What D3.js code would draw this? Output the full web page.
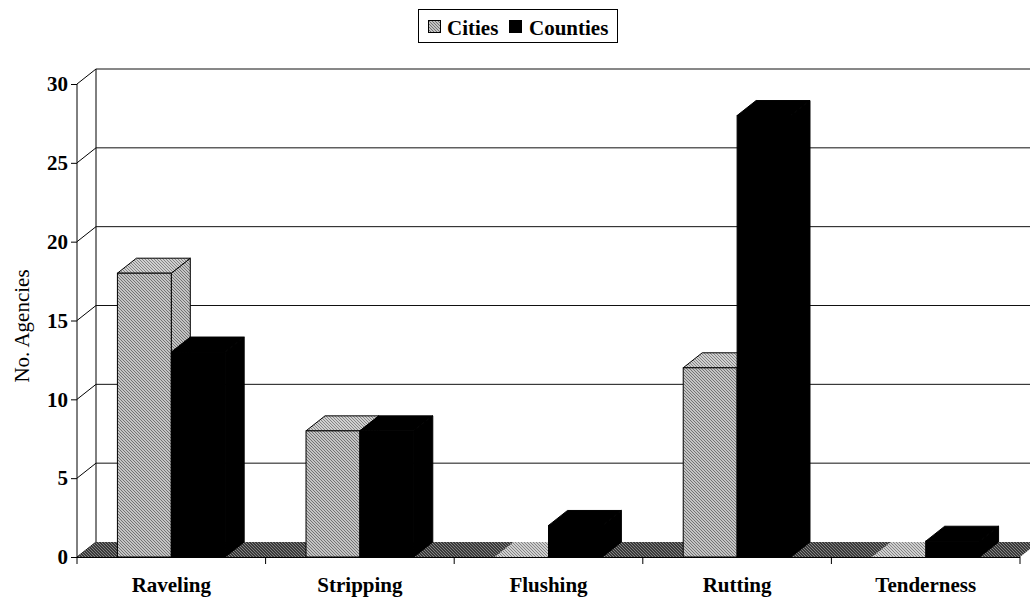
<!DOCTYPE html>
<html>
<head>
<meta charset="utf-8">
<script src="https://cdn.jsdelivr.net/npm/d3@7"></script>
<style>
  html, body { margin: 0; padding: 0; background: #fff; }
  svg { display: block; }
  text { font-family: "Liberation Serif", "Times New Roman", serif; fill: #000; }
</style>
</head>
<body>
<svg id="chart" width="1030" height="602"></svg>
<script>
// Distress types reported by agencies
const categories = ["Raveling", "Stripping", "Flushing", "Rutting", "Tenderness"];
const seriesNames = ["Cities", "Counties"];
const citiesValues = [18, 8, 0, 12, 0];
const countiesValues = [13, 8, 2, 28, 1];
const yTicks = [0, 5, 10, 15, 20, 25, 30];
const yTitle = "No. Agencies";

(function () {
const svg = d3.select("#chart");

// plot frame (front plane) and 3D depth offset
const plotLeft = 77, plotRight = 1020, plotBottom = 557, plotTop = 84;
const dx = 19, dy = 15;

const defs = svg.append("defs");
function hatch(id, bg, fg) {
  const p = defs.append("pattern").attr("id", id)
    .attr("patternUnits", "userSpaceOnUse").attr("width", 3).attr("height", 3);
  p.append("rect").attr("width", 3).attr("height", 3).attr("fill", bg);
  p.append("path").attr("d", "M0,0 L3,3 M-1,2 L1,4 M2,-1 L4,1")
    .attr("stroke", fg).attr("stroke-width", 0.9);
}
hatch("hatchCities", "#c4c4c4", "#6a6a6a");     // Cities front and side faces
hatch("hatchCitiesTop", "#d0d0d0", "#7a7a7a");  // Cities top face
hatch("hatchFloor", "#3a3a3a", "#8c8c8c");      // floor

const y = d3.scaleLinear().domain([0, 30]).range([plotBottom, plotTop]);
const x0 = d3.scaleBand().domain(categories).range([plotLeft, plotRight]).paddingInner(0).paddingOuter(0);
const x1 = d3.scaleBand().domain(seriesNames).range([0, x0.bandwidth()])
  .paddingInner(0).paddingOuter(0.75);

const g = svg.append("g");

// back wall: left edge and gridlines
g.append("line").attr("x1", plotLeft + dx).attr("x2", plotLeft + dx)
  .attr("y1", y(30) - dy).attr("y2", y(0) - dy)
  .attr("stroke", "#000").attr("stroke-width", 1);
g.selectAll(".grid").data(yTicks.filter(d => d > 0)).join("line")
  .attr("class", "grid")
  .attr("x1", plotLeft + dx).attr("x2", plotRight + dx)
  .attr("y1", d => y(d) - dy).attr("y2", d => y(d) - dy)
  .attr("stroke", "#111").attr("stroke-width", 1);
// connectors from the front axis to the back wall
g.selectAll(".conn").data(yTicks).join("line")
  .attr("class", "conn")
  .attr("x1", plotLeft).attr("x2", plotLeft + dx)
  .attr("y1", d => y(d)).attr("y2", d => y(d) - dy)
  .attr("stroke", "#000").attr("stroke-width", 1);

// floor
g.append("path")
  .attr("d", `M${plotLeft},${y(0)} L${plotRight},${y(0)} L${plotRight + dx},${y(0) - dy} L${plotLeft + dx},${y(0) - dy} Z`)
  .attr("fill", "url(#hatchFloor)");

// bars
const rows = [];
categories.forEach((c, i) => {
  rows.push({ cat: c, s: "Cities", v: citiesValues[i] });
  rows.push({ cat: c, s: "Counties", v: countiesValues[i] });
});

const bars = g.selectAll(".bar").data(rows).join("g").attr("class", "bar");
bars.each(function (d) {
  const el = d3.select(this);
  const bx = x0(d.cat) + x1(d.s);
  const bw = x1.bandwidth();
  const yt = y(d.v), yb = y(0);
  const isC = d.s === "Cities";
  const front = isC ? "url(#hatchCities)" : "#000";
  const topF = isC ? "url(#hatchCitiesTop)" : "#000";
  const stroke = "#000";
  // side face
  if (d.v > 0) {
    el.append("path")
      .attr("d", `M${bx + bw},${yt} L${bx + bw + dx},${yt - dy} L${bx + bw + dx},${yb - dy} L${bx + bw},${yb} Z`)
      .attr("fill", front).attr("stroke", stroke).attr("stroke-width", 1).attr("stroke-linejoin", "round");
  }
  // top face
  el.append("path")
    .attr("d", `M${bx},${yt} L${bx + dx},${yt - dy} L${bx + bw + dx},${yt - dy} L${bx + bw},${yt} Z`)
    .attr("fill", topF).attr("stroke", d.v > 0 ? stroke : "none").attr("stroke-width", 1).attr("stroke-linejoin", "round");
  // front face
  if (d.v > 0) {
    el.append("rect")
      .attr("x", bx).attr("y", yt).attr("width", bw).attr("height", yb - yt)
      .attr("fill", front).attr("stroke", stroke).attr("stroke-width", 1);
  }
});

// front value axis
g.append("line").attr("x1", plotLeft).attr("x2", plotLeft).attr("y1", y(30)).attr("y2", y(0))
  .attr("stroke", "#000").attr("stroke-width", 1);
const yAxis = d3.axisLeft(y).tickValues(yTicks).tickSize(6).tickPadding(3).tickFormat(d3.format("d"));
const ya = g.append("g").attr("transform", `translate(${plotLeft},0)`).call(yAxis);
ya.select(".domain").remove();
ya.selectAll("line").attr("stroke", "#000");
ya.selectAll("text").attr("font-size", 21).attr("font-weight", "bold")
  .attr("font-family", "Liberation Serif, Times New Roman, serif").attr("fill", "#000");

// category axis
const xAxis = d3.axisBottom(x0).tickSize(0).tickPadding(20);
const xa = g.append("g").attr("transform", `translate(0,${y(0)})`).call(xAxis);
xa.select(".domain").attr("stroke", "#000").attr("d", `M${plotLeft},0.5H${plotRight}`);
xa.selectAll("text").attr("font-size", 21).attr("font-weight", "bold")
  .attr("font-family", "Liberation Serif, Times New Roman, serif").attr("fill", "#000");
// boundary ticks between categories
const bounds = categories.map(c => x0(c)).concat([plotRight]);
xa.selectAll(".bound").data(bounds).join("line").attr("class", "bound")
  .attr("x1", d => d).attr("x2", d => d).attr("y1", 0).attr("y2", 7)
  .attr("stroke", "#000").attr("stroke-width", 1);

// axis title
svg.append("text")
  .attr("transform", `translate(29,326) rotate(-90)`)
  .attr("text-anchor", "middle")
  .attr("font-size", 21)
  .text(yTitle);

// legend
const lg = svg.append("g");
lg.append("rect").attr("x", 418.5).attr("y", 9.5).attr("width", 199).attr("height", 33)
  .attr("fill", "#fff").attr("stroke", "#000").attr("stroke-width", 1);
const legendItems = [
  { name: seriesNames[0], fill: "url(#hatchCities)", sx: 428, tx: 447 },
  { name: seriesNames[1], fill: "#000", sx: 509, tx: 529 }
];
legendItems.forEach(it => {
  lg.append("rect").attr("x", it.sx + 0.5).attr("y", 20.5).attr("width", 12).attr("height", 12)
    .attr("fill", it.fill).attr("stroke", "#000").attr("stroke-width", 1);
  lg.append("text").attr("x", it.tx).attr("y", 35).attr("font-size", 21).attr("font-weight", "bold")
    .text(it.name);
});
})();
</script>
</body>
</html>
